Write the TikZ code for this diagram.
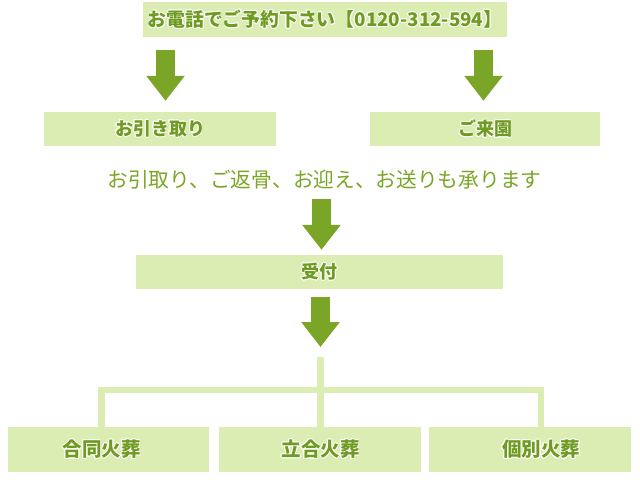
\documentclass[tikz,border=0pt]{standalone}
\usepackage{fontspec}
\newfontfamily\jp{Noto Sans CJK JP}
\usepackage[copies]{contour}
\contourlength{0.7pt}
\usetikzlibrary{arrows.meta}
\definecolor{boxgreen}{RGB}{220,237,180}
\definecolor{leaf}{RGB}{122,165,38}
\definecolor{inkgreen}{RGB}{110,155,32}
\tikzset{
  panel/.style={fill=boxgreen,inner sep=0pt,text=inkgreen,font=\jp\bfseries\fontsize{18}{18}\selectfont},
  word/.style={inner sep=0pt,text=inkgreen,font=\jp\bfseries\fontsize{19.5}{19.5}\selectfont},
  flow/.style={leaf,line width=18.5pt,-{Triangle[width=37pt,length=25pt]}},
  branch/.style={boxgreen,line width=6.5pt},
}
\newcommand\halo[1]{\contour{white}{#1}}
\begin{document}
\begin{tikzpicture}[x=1pt,y=-1pt]
		\useasboundingbox (0,0) rectangle (640,493);
		% top row
		\node[panel,minimum width=364pt,minimum height=35pt,font=\jp\bfseries\fontsize{18.8}{18.8}\selectfont] (tel) at (325,19.5) {\halo{お電話でご予約下さい【0120-312-594】}};
		\node[panel,minimum width=232pt,minimum height=34pt] (pick) at (160,129) {\halo{お引き取り}};
		\node[panel,minimum width=230pt,minimum height=34pt] (visit) at (485,129) {\halo{ご来園}};
		\draw[flow,shorten <=13pt,shorten >=11pt] ([xshift=5.5]tel.south -| pick.north) -- ([xshift=5.5]pick.north);
		\draw[flow,shorten <=13pt,shorten >=11pt] ([xshift=-1.5]tel.south -| visit.north) -- ([xshift=-1.5]visit.north);
		% middle
		\node[inner sep=0pt,text=leaf,font=\jp\fontsize{20.7}{20.7}\selectfont] (notice) at (324.5,180) {お引取り、ご返骨、お迎え、お送りも承ります};
		\node[panel,minimum width=367pt,minimum height=34pt] (desk) at (319.5,272) {\halo{受付}};
		\draw[flow,shorten <=19pt,shorten >=5pt] ([xshift=2]notice.center -| desk.north) -- ([xshift=2]desk.north);
		% tree
		\coordinate (fork) at (320.5,357);
		\coordinate (bar) at (320.5,390);
		\coordinate (dropL) at (101.5,427);
		\coordinate (dropR) at (541,427);
		\draw[flow,shorten <=8pt,shorten >=10pt] (desk.south -| fork) -- (fork);
		\node[panel,minimum width=201pt,minimum height=45pt] (joint) at (108.5,449.5) {};
		\node[panel,minimum width=202pt,minimum height=45pt] (attend) at (320,449.5) {};
		\node[panel,minimum width=202pt,minimum height=45pt] (single) at (530,449.5) {};
		\draw[branch] (fork) -- (fork |- attend.north);
		\draw[branch] (dropL) |- (bar) -| (dropR);
		\node[word] (jointtxt) at (joint -| dropL) {\halo{合同火葬}};
		\node[word] (attendtxt) at (attend -| fork) {\halo{立合火葬}};
		\node[word] (singletxt) at (single -| dropR) {\halo{個別火葬}};
		\end{tikzpicture}
\end{document}
